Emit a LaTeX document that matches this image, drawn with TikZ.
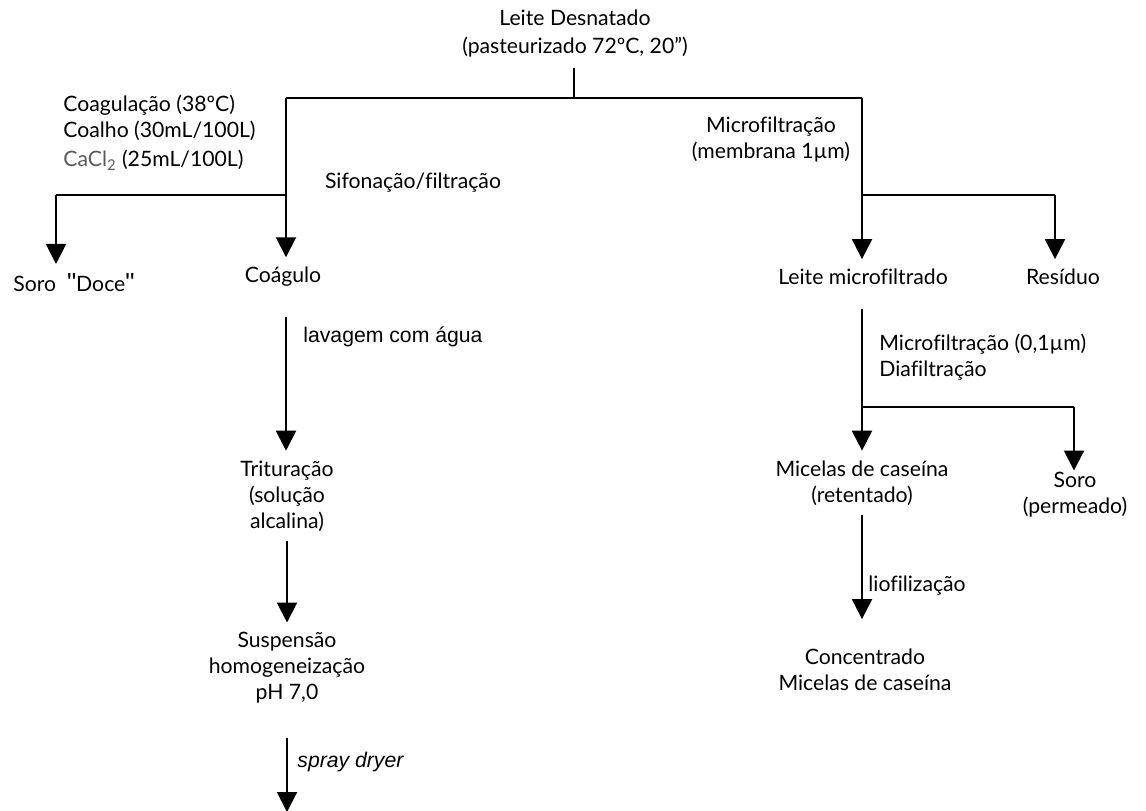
\documentclass[tikz,border=0pt]{standalone}
\usepackage{fontspec}
\setmainfont{Lato}[Ligatures=NoCommon]
\newfontfamily\arialfont{Liberation Sans}
\usetikzlibrary{arrows.meta,positioning}

\definecolor{cinza}{RGB}{90,90,90}
\newcommand{\aspas}{{\arialfont\fontsize{13}{13}\selectfont"}}

\tikzset{
  etapa/.style={align=center, inner sep=0pt, outer sep=5pt,
    font=\fontsize{10.6}{13}\selectfont},
  rotulo/.style={align=left, inner sep=0pt,
    font=\fontsize{10.6}{13}\selectfont},
  linha/.style={line width=1pt},
  fluxo/.style={line width=1pt, -{Triangle[width=10pt,length=10pt]}},
}

\begin{document}
\begin{tikzpicture}[x=0.5pt, y=-0.5pt]

    \useasboundingbox (0,0) rectangle (1146,810);

    % Etapas do processo
    \node[etapa] (leite)    at (575,34)  {Leite Desnatado\\[1pt](pasteurizado 72ºC, 20”)};
    \node[etapa] (soro)     at (74,283)  {Soro\ \ \aspas Doce\aspas};
    \node[etapa] (coagulo)  at (283,277) {Coágulo};
    \node[etapa] (leitemf)  at (863,277) {Leite microfiltrado};
    \node[etapa] (residuo)  at (1063,277) {Resíduo};
    \node[etapa] (tritur)   at (287,496) {Trituração\\(solução\\alcalina)};
    \node[etapa] (susp)     at (287,668) {Suspensão\\homogeneização\\pH 7,0};
    \node[etapa] (micelas)  at (862,483) {Micelas de caseína\\(retentado)};
    \node[etapa] (soroperm) at (1075,495) {Soro\\(permeado)};
    \node[etapa] (conc)     at (865,670) {Concentrado\\Micelas de caseína};

    % Pontos de ramificacao
    \coordinate (topo) at (574,98);
    \coordinate (esq)  at (286,98);
    \coordinate (dir)  at (862,98);
    \coordinate (esq2) at (286,195);
    \coordinate (sor)  at (56,195);
    \coordinate (dir2) at (862,195);
    \coordinate (res)  at (1055,195);
    \coordinate (mic)  at (862,407);
    \coordinate (perm) at (1074,407);
    \coordinate (fim)  at (287,812);

    % Condicoes de cada etapa
    \node[rotulo, anchor=north west] (coag) at (63,95)
      {Coagulação (38ºC)\\Coalho (30mL/100L)\\[1.5pt]\textcolor{cinza}{CaCl\textsubscript{2}} (25mL/100L)};
    \node[rotulo] (sifon) at (413,183) {Sifonação/filtração};
    \node[etapa, outer sep=0pt] (micro1) at (771,140) {Microfiltração\\(membrana 1µm)};
    \node[rotulo, anchor=west, font=\arialfont\fontsize{10.6}{12}\selectfont] (lavagem) at (303,337) {lavagem com água};
    \node[rotulo, anchor=north west] (micro2) at (879,334) {Microfiltração (0,1µm)\\Diafiltração};
    \node[rotulo, anchor=west] (liof) at (868,586) {liofilização};
    \node[rotulo, anchor=west, font=\arialfont\itshape\fontsize{10.6}{12}\selectfont] (spray) at (297,762) {spray dryer};

    % Ligacoes
    \draw[linha] (topo |- leite.south) -- (topo);
    \draw[linha] (esq) -- (dir);
    \draw[fluxo] (esq) -- (esq |- coagulo.north);
    \draw[linha] (esq2) -- (sor);
    \draw[fluxo] (sor) -- (sor |- soro.north);
    \draw[fluxo] (dir) -- (dir |- leitemf.north);
    \draw[linha] (dir2) -- (res);
    \draw[fluxo] (res) -- (res |- residuo.north);
    \draw[fluxo, shorten <=10pt] (coagulo.south -| esq) -- (esq |- tritur.north);
    \draw[fluxo] (tritur.south) -- (susp.north);
    \draw[fluxo, shorten <=12pt] (susp) -- (fim);
    \draw[fluxo, shorten <=7pt] (leitemf.south -| dir) -- (dir |- micelas.north);
    \draw[linha] (mic) -- (perm);
    \draw[fluxo, shorten >=-4pt] (perm) -- (perm |- soroperm.north);
    \draw[fluxo, shorten >=10pt] (micelas.south) -- (micelas.south |- conc.north);

\end{tikzpicture}
\end{document}
